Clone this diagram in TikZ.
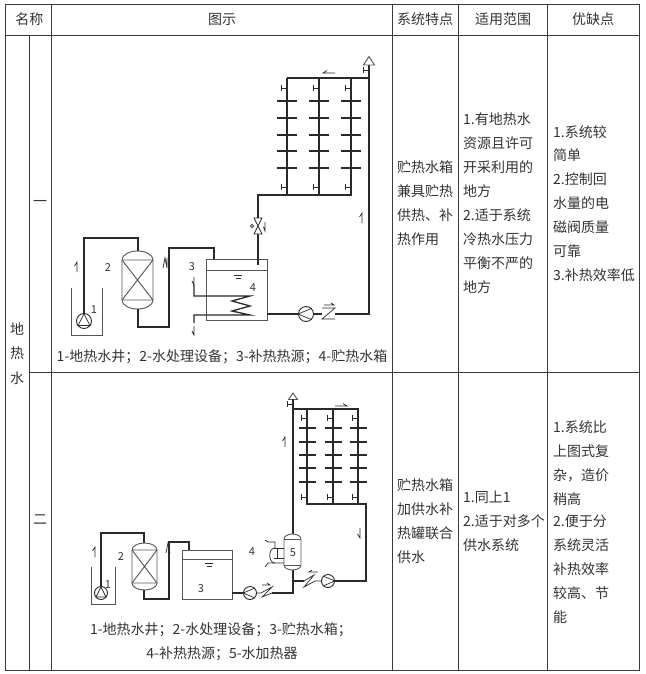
\documentclass[tikz,border=0pt]{standalone}
\usepackage{fontspec}
\setmainfont{Noto Sans CJK SC}
\usetikzlibrary{calc}
\definecolor{inkc}{HTML}{333333}
\definecolor{gridc}{HTML}{3A3A3A}
\definecolor{pipec}{HTML}{2A2A2A}
\newcommand{\halfup}[2]{\draw[thinp] (#1,#2+5)--(#1,#2-5)--(#1-2.5,#2-1);}
\newcommand{\halfdn}[2]{\draw[thinp] (#1,#2-5)--(#1,#2+5)--(#1-2.5,#2+1);}
\newcommand{\halfl}[2]{\draw[thinp] (#1+6,#2)--(#1-6,#2)--(#1-2,#2-2.5);}
\newcommand{\halfr}[2]{\draw[thinp] (#1-6,#2)--(#1+6,#2)--(#1+2,#2-2.5);}
\newcommand{\waterlv}[2]{\draw[thinp] (#1-4,#2-1.5)--(#1+4,#2-1.5) (#1-2.5,#2+1)--(#1+2.5,#2+1);}
\newcommand{\stopv}[2]{\draw[thinp] (#1,#2)--(#1-6,#2) (#1-6,#2-3)--(#1-6,#2+3);}
\begin{document}
\begin{tikzpicture}[x=1pt,y=-1pt,
  tableline/.style={gridc,line width=1pt},
  celltext/.style={inkc,font=\fontsize{14}{14}\selectfont,inner sep=0pt,anchor=west},
  midtext/.style={inkc,font=\fontsize{14}{14}\selectfont,inner sep=0pt,anchor=center},
  captext/.style={inkc,font=\fontsize{14}{14}\selectfont,inner sep=0pt,anchor=center},
  numtext/.style={inkc,font=\fontsize{11}{11}\selectfont,inner sep=0pt,anchor=center},
  pipe/.style={pipec,line width=1.3pt,line join=miter},
  thinp/.style={pipec,line width=0.7pt},
  vess/.style={pipec!80,line width=0.9pt},
  barline/.style={pipec,line width=1.2pt},
  pumpn/.style={circle,draw=pipec,line width=0.9pt,fill=white,inner sep=0pt}]
\useasboundingbox (0,0) rectangle (645,674);
\fill[white] (0,0) rectangle (645,674);
% ---------- table
\draw[tableline] (5,5) rectangle (639,670);
\draw[tableline] (5,36)--(639,36) (29,372)--(639,372);
\draw[tableline] (51,5)--(51,670) (392,5)--(392,670) (458,5)--(458,670) (547,5)--(547,670);
\draw[tableline] (29,36)--(29,670);
% headers
\node[midtext] (h1) at (29.5,19) {名称};
\node[midtext] (h2) at (222,19) {图示};
\node[midtext] (h3) at (425,19) {系统特点};
\node[midtext] (h4) at (503,19) {适用范围};
\node[midtext] (h5) at (593,19) {优缺点};
\node[midtext] (k1) at (17,329) {地};
\node[midtext] (k2) at (17,353) {热};
\node[midtext] (k3) at (17,378) {水};
\node[midtext] (n1) at (40,203) {一};
\node[midtext] (n2) at (40,520) {二};
% upper row text
\foreach \i/\y/\t in {1/167/贮热水箱,2/191/兼具贮热,3/215/供热、补,4/239/热作用}
  \node[celltext] (a\i) at (397,\y) {\t};
\foreach \i/\y/\t in {1/119/1.有地热水,2/143/资源且许可,3/167/开采利用的,4/191/地方,5/215/2.适于系统,6/239/冷热水压力,7/263/平衡不严的,8/287/地方}
  \node[celltext] (b\i) at (463,\y) {\t};
\foreach \i/\y/\t in {1/132/1.系统较,2/155/简单,3/179/2.控制回,4/203/水量的电,5/227/磁阀质量,6/251/可靠,7/275/3.补热效率低}
  \node[celltext] (c\i) at (553,\y) {\t};
% lower row text
\foreach \i/\y/\t in {1/485/贮热水箱,2/509/加供水补,3/533/热罐联合,4/557/供水}
  \node[celltext] (d\i) at (397,\y) {\t};
\foreach \i/\y/\t in {1/497/1.同上1,2/521/2.适于对多个,3/545/供水系统}
  \node[celltext] (e\i) at (463,\y) {\t};
\foreach \i/\y/\t in {1/427/1.系统比,2/451/上图式复,3/475/{杂，造价},4/499/稍高,5/521/2.便于分,6/545/系统灵活,7/569/补热效率,8/593/较高、节,9/617/能}
  \node[celltext] (f\i) at (553,\y) {\t};
% captions
\node[captext] (cap1) at (222,357) {1-地热水井；2-水处理设备；3-补热热源；4-贮热水箱};
\node[captext] (cap2) at (221,630) {1-地热水井；2-水处理设备；3-贮热水箱；};
\node[captext] (cap3) at (222,654) {4-补热热源；5-水加热器};
% ---------- diagram 1
\draw[vess] (71,288)--(71,335)--(102,335)--(102,288);
\draw[pipe] (84,321)--(84,238)--(138,238)--(138,251);
\node[pumpn,minimum size=15pt] (p1) at (84,321) {};
\draw[thinp] (78,325.5)--(84,314)--(90,325.5)--cycle;
\draw[vess] (122,260) arc[start angle=180,end angle=360,x radius=15.5,y radius=9]
  --(153,300) arc[start angle=0,end angle=180,x radius=15.5,y radius=9]--cycle;
\draw[vess] (122,260)--(153,260) (122,300)--(153,300) (122,260)--(153,300) (153,260)--(122,300);
\draw[pipe] (138,309)--(138,327)--(169,327)--(169,248)--(214,248)--(214,259);
\draw[vess] (206,259) rectangle (267,320);
\draw[vess] (206,270)--(267,270);
\waterlv{238}{277}
\draw[pipe] (194,285)--(194,296)--(250,296)--(232,301)--(250,306)--(232,311)--(250,315)--(194,315)--(194,323);
\draw[thinp] (194,277)--(194,285)--(192,281);
\draw[thinp] (194,326)--(194,335)--(192,331);
\node[numtext] (l1) at (94,310) {1};
\node[numtext] (l2) at (108,268) {2};
\node[numtext] (l3) at (192,267) {3};
\node[numtext] (l4) at (253,288) {4};
% valve
\draw[pipe] (258,265)--(258,234);
\draw[thinp,fill=white] (254,218)--(262,218)--(254,234)--(262,234)--cycle;
\draw[thinp] (252,226) circle (1.7);
\draw[thinp] (265,222)--(265,231)--(263.5,227);
\draw[pipe] (258,218)--(258,195)--(351,195)--(351,78);
\draw[pipe] (287,195)--(287,78);
\draw[pipe] (319,195)--(319,78);
\draw[pipe] (287,78)--(369,78);
\draw[pipe] (369,65)--(369,314)--(335,314);
\draw[vess,fill=white] (369,56.5)--(374.5,65)--(363.5,65)--cycle;
\stopv{369}{70}
\foreach \x in {287,319,351}{
  \foreach \y in {101,118,135,151,168} \draw[barline] (\x-10,\y)--(\x+10,\y);
  \stopv{\x}{88}\stopv{\x}{187}}
\halfl{329}{73}
\halfup{362}{218}
\halfup{77}{267}
\draw[thinp] (163,268)--(165,258)--(167,268)--(167,258);
% pump + check
\node[pumpn,minimum size=15pt] (p2) at (306,314) {};
\draw[thinp] (p2.west)--(p2.north east) (p2.west)--(p2.south east);
\draw[pipe] (267,314)--(p2.west);
\draw[pipe] (p2.east)--(322,314);
\draw[thinp] (322,308)--(335,308)--(322,319)--(335,319);
\draw[thinp] (324,305)--(334,305)--(331,303);
% ---------- diagram 2
\draw[vess] (91,567)--(91,604)--(115,604)--(115,567);
\draw[pipe] (101,593)--(101,533)--(144,533)--(144,543);
\node[pumpn,minimum size=13pt] (p3) at (101,593) {};
\draw[thinp] (96,597)--(101,587)--(106,597)--cycle;
\draw[vess] (132,550) arc[start angle=180,end angle=360,x radius=12.5,y radius=7]
  --(157,583) arc[start angle=0,end angle=180,x radius=12.5,y radius=7]--cycle;
\draw[vess] (132,550)--(157,550) (132,583)--(157,583) (132,550)--(157,583) (157,550)--(132,583);
\draw[pipe] (144,590)--(144,599)--(169,599)--(169,542)--(189,542)--(189,550);
\draw[vess] (182,550) rectangle (232,599);
\draw[vess] (182,559)--(232,559);
\waterlv{209}{565}
\node[numtext] (m1) at (108,585) {1};
\node[numtext] (m2) at (121,557) {2};
\node[numtext] (m3) at (201,589) {3};
\node[numtext] (m4) at (252,552) {4};
\node[pumpn,minimum size=13pt] (p4) at (250,593) {};
\draw[thinp] (p4.west)--(p4.north east) (p4.west)--(p4.south east);
\draw[pipe] (232,593)--(p4.west);
\draw[thinp] (p4.east)--(261,593)--(272,587)--(262,597)--(272,593);
\draw[pipe] (272,593)--(293,593)--(293,568);
\draw[thinp] (262,585)--(270,585)--(267,583);
% heater
\draw[pipe] (293,534)--(293,409)--(358,409)--(358,504)--(307,504)--(307,409);
\draw[vess,fill=white] (284,539) arc[start angle=180,end angle=360,x radius=8.5,y radius=5]
  --(301,565) arc[start angle=0,end angle=180,x radius=8.5,y radius=5]--cycle;
\draw[vess] (284,539)--(301,539) (284,565)--(301,565);
\node[numtext] (m5) at (293,553) {5};
\draw[pipe] (333,504)--(333,409);
\node[pumpn,minimum size=13pt] (p5) at (328,581) {};
\draw[thinp] (p5.east)--(p5.north west) (p5.east)--(p5.south west);
\draw[pipe] (358,504)--(366,504)--(366,581)--(p5.east);
\draw[thinp] (p5.west)--(315,581)--(304,587)--(314,575)--(304,581);
\draw[pipe] (304,581)--(293,581);
\draw[thinp] (318,572)--(309,572)--(312,570);
% vent
\draw[vess,fill=white] (293,393)--(297.5,399.5)--(288.5,399.5)--cycle;
\draw[pipe] (293,409)--(293,399);
\stopv{293}{404}
\foreach \x in {307,333,358}{
  \foreach \y in {428,442,455,468,482} \draw[barline] (\x-8.5,\y)--(\x+8.5,\y);
  \stopv{\x}{418}\stopv{\x}{497}}
\halfr{341}{406}
\halfup{285}{442}
\halfdn{360}{533}
\halfup{95}{552}
\draw[thinp] (166,553)--(168,543)--(170,553);
% source 4
\draw[thinp] (284,548)--(274,548) (284,558)--(274,558) (277,548)--(277,558);
\draw[thinp] (275,548) .. controls (268,548) and (268,563) .. (275,563)--(284,563);
\draw[thinp] (265,540)--(268,542)--(275,542)--(275,548);
\draw[thinp] (265,567)--(268,563)--(275,563);
\end{tikzpicture}
\end{document}
